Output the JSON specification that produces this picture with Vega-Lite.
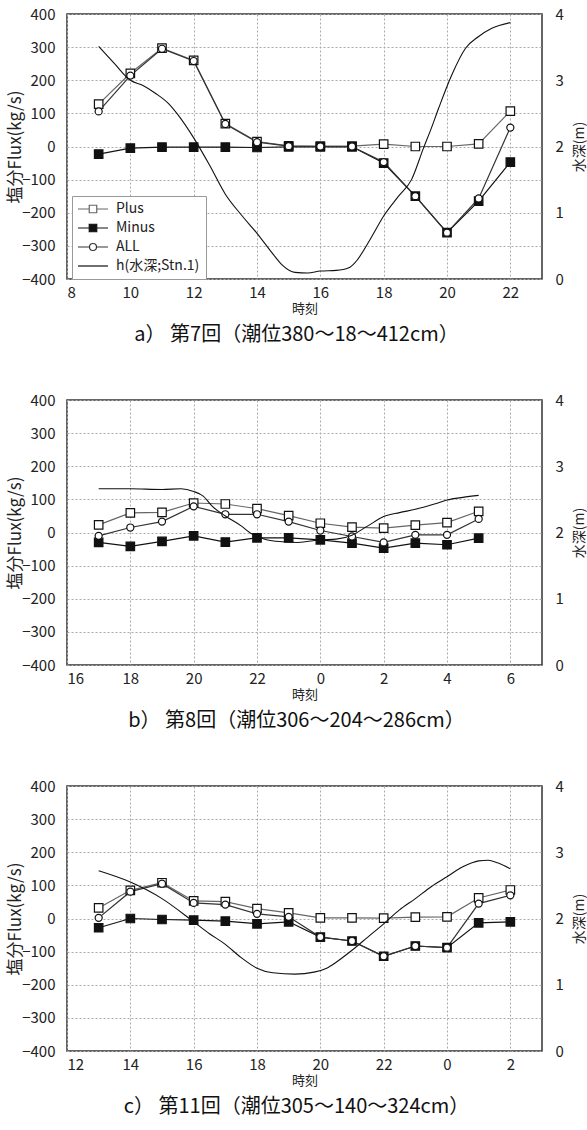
{
  "$schema": "https://vega.github.io/schema/vega-lite/v6.json",
  "background": "white",
  "padding": {"left": 5, "top": 6, "right": 2, "bottom": 2},
  "spacing": 46,
  "config": {
    "view": {"stroke": "#333", "strokeWidth": 1.5},
    "axis": {
      "labelFont": "Noto Sans CJK JP", "labelFontSize": 15, "labelColor": "#222", "labelOverlap": false,
      "titleFont": "Noto Sans CJK JP", "titleFontWeight": "normal", "titleColor": "#222",
      "ticks": false, "domain": false, "gridColor": "#aaa", "gridDash": [2, 2], "gridWidth": 1
    },
    "title": {"font": "Noto Sans CJK JP", "fontWeight": "normal", "fontSize": 20, "color": "#111"}
  },
  "datasets": {
    "a_pts": [
      {"t": 9, "series": "Plus", "v": 128}, {"t": 10, "series": "Plus", "v": 221}, {"t": 11, "series": "Plus", "v": 297}, {"t": 12, "series": "Plus", "v": 260}, {"t": 13, "series": "Plus", "v": 69}, {"t": 14, "series": "Plus", "v": 15}, {"t": 15, "series": "Plus", "v": 2}, {"t": 16, "series": "Plus", "v": 1}, {"t": 17, "series": "Plus", "v": 1}, {"t": 18, "series": "Plus", "v": 7}, {"t": 19, "series": "Plus", "v": 0}, {"t": 20, "series": "Plus", "v": 0}, {"t": 21, "series": "Plus", "v": 8}, {"t": 22, "series": "Plus", "v": 107},
      {"t": 9, "series": "Minus", "v": -23}, {"t": 10, "series": "Minus", "v": -5}, {"t": 11, "series": "Minus", "v": -2}, {"t": 12, "series": "Minus", "v": -2}, {"t": 13, "series": "Minus", "v": -2}, {"t": 14, "series": "Minus", "v": -3}, {"t": 15, "series": "Minus", "v": -1}, {"t": 16, "series": "Minus", "v": -1}, {"t": 17, "series": "Minus", "v": -1}, {"t": 18, "series": "Minus", "v": -50}, {"t": 19, "series": "Minus", "v": -150}, {"t": 20, "series": "Minus", "v": -260}, {"t": 21, "series": "Minus", "v": -165}, {"t": 22, "series": "Minus", "v": -47},
      {"t": 9, "series": "ALL", "v": 106}, {"t": 10, "series": "ALL", "v": 214}, {"t": 11, "series": "ALL", "v": 295}, {"t": 12, "series": "ALL", "v": 258}, {"t": 13, "series": "ALL", "v": 68}, {"t": 14, "series": "ALL", "v": 13}, {"t": 15, "series": "ALL", "v": 1}, {"t": 16, "series": "ALL", "v": 0}, {"t": 17, "series": "ALL", "v": 0}, {"t": 18, "series": "ALL", "v": -47}, {"t": 19, "series": "ALL", "v": -150}, {"t": 20, "series": "ALL", "v": -260}, {"t": 21, "series": "ALL", "v": -157}, {"t": 22, "series": "ALL", "v": 57}
    ],
    "a_h": [
      {"t": 9, "d": 3.51, "series": "h(水深;Stn.1)"}, {"t": 9.5, "d": 3.25, "series": "h(水深;Stn.1)"}, {"t": 10, "d": 3.0, "series": "h(水深;Stn.1)"}, {"t": 10.4, "d": 2.92, "series": "h(水深;Stn.1)"}, {"t": 10.8, "d": 2.8, "series": "h(水深;Stn.1)"}, {"t": 11.2, "d": 2.65, "series": "h(水深;Stn.1)"}, {"t": 11.5, "d": 2.48, "series": "h(水深;Stn.1)"}, {"t": 12, "d": 2.13, "series": "h(水深;Stn.1)"}, {"t": 12.5, "d": 1.72, "series": "h(水深;Stn.1)"}, {"t": 13, "d": 1.28, "series": "h(水深;Stn.1)"}, {"t": 13.5, "d": 0.97, "series": "h(水深;Stn.1)"}, {"t": 14, "d": 0.69, "series": "h(水深;Stn.1)"}, {"t": 14.5, "d": 0.38, "series": "h(水深;Stn.1)"}, {"t": 14.8, "d": 0.21, "series": "h(水深;Stn.1)"}, {"t": 15.2, "d": 0.1, "series": "h(水深;Stn.1)"}, {"t": 15.6, "d": 0.09, "series": "h(水深;Stn.1)"}, {"t": 16, "d": 0.12, "series": "h(水深;Stn.1)"}, {"t": 16.5, "d": 0.13, "series": "h(水深;Stn.1)"}, {"t": 16.9, "d": 0.17, "series": "h(水深;Stn.1)"}, {"t": 17.1, "d": 0.25, "series": "h(水深;Stn.1)"}, {"t": 17.6, "d": 0.62, "series": "h(水深;Stn.1)"}, {"t": 18, "d": 0.95, "series": "h(水深;Stn.1)"}, {"t": 18.47, "d": 1.25, "series": "h(水深;Stn.1)"}, {"t": 18.88, "d": 1.5, "series": "h(水深;Stn.1)"}, {"t": 19.26, "d": 1.98, "series": "h(水深;Stn.1)"}, {"t": 19.5, "d": 2.27, "series": "h(水深;Stn.1)"}, {"t": 19.73, "d": 2.57, "series": "h(水深;Stn.1)"}, {"t": 20.15, "d": 3.08, "series": "h(水深;Stn.1)"}, {"t": 20.58, "d": 3.48, "series": "h(水深;Stn.1)"}, {"t": 21, "d": 3.66, "series": "h(水深;Stn.1)"}, {"t": 21.4, "d": 3.78, "series": "h(水深;Stn.1)"}, {"t": 22, "d": 3.87, "series": "h(水深;Stn.1)"}
    ],
    "b_pts": [
      {"t": 17, "series": "Plus", "v": 23}, {"t": 18, "series": "Plus", "v": 59}, {"t": 19, "series": "Plus", "v": 61}, {"t": 20, "series": "Plus", "v": 89}, {"t": 21, "series": "Plus", "v": 86}, {"t": 22, "series": "Plus", "v": 72}, {"t": 23, "series": "Plus", "v": 51}, {"t": 24, "series": "Plus", "v": 28}, {"t": 25, "series": "Plus", "v": 16}, {"t": 26, "series": "Plus", "v": 13}, {"t": 27, "series": "Plus", "v": 22}, {"t": 28, "series": "Plus", "v": 30}, {"t": 29, "series": "Plus", "v": 64},
      {"t": 17, "series": "Minus", "v": -30}, {"t": 18, "series": "Minus", "v": -42}, {"t": 19, "series": "Minus", "v": -27}, {"t": 20, "series": "Minus", "v": -10}, {"t": 21, "series": "Minus", "v": -29}, {"t": 22, "series": "Minus", "v": -16}, {"t": 23, "series": "Minus", "v": -16}, {"t": 24, "series": "Minus", "v": -22}, {"t": 25, "series": "Minus", "v": -32}, {"t": 26, "series": "Minus", "v": -47}, {"t": 27, "series": "Minus", "v": -32}, {"t": 28, "series": "Minus", "v": -37}, {"t": 29, "series": "Minus", "v": -17},
      {"t": 17, "series": "ALL", "v": -10}, {"t": 18, "series": "ALL", "v": 15}, {"t": 19, "series": "ALL", "v": 33}, {"t": 20, "series": "ALL", "v": 79}, {"t": 21, "series": "ALL", "v": 55}, {"t": 22, "series": "ALL", "v": 55}, {"t": 23, "series": "ALL", "v": 33}, {"t": 24, "series": "ALL", "v": 6}, {"t": 25, "series": "ALL", "v": -12}, {"t": 26, "series": "ALL", "v": -30}, {"t": 27, "series": "ALL", "v": -7}, {"t": 28, "series": "ALL", "v": -7}, {"t": 29, "series": "ALL", "v": 41}
    ],
    "b_h": [
      {"t": 17, "d": 2.66, "series": "h(水深;Stn.1)"}, {"t": 18, "d": 2.66, "series": "h(水深;Stn.1)"}, {"t": 19, "d": 2.65, "series": "h(水深;Stn.1)"}, {"t": 19.6, "d": 2.66, "series": "h(水深;Stn.1)"}, {"t": 20, "d": 2.62, "series": "h(水深;Stn.1)"}, {"t": 20.3, "d": 2.55, "series": "h(水深;Stn.1)"}, {"t": 20.6, "d": 2.39, "series": "h(水深;Stn.1)"}, {"t": 21, "d": 2.25, "series": "h(水深;Stn.1)"}, {"t": 21.5, "d": 2.1, "series": "h(水深;Stn.1)"}, {"t": 21.8, "d": 1.99, "series": "h(水深;Stn.1)"}, {"t": 22.3, "d": 1.89, "series": "h(水深;Stn.1)"}, {"t": 22.8, "d": 1.86, "series": "h(水深;Stn.1)"}, {"t": 23.3, "d": 1.85, "series": "h(水深;Stn.1)"}, {"t": 24, "d": 1.89, "series": "h(水深;Stn.1)"}, {"t": 24.5, "d": 1.9, "series": "h(水深;Stn.1)"}, {"t": 25, "d": 1.96, "series": "h(水深;Stn.1)"}, {"t": 25.5, "d": 2.1, "series": "h(水深;Stn.1)"}, {"t": 26, "d": 2.24, "series": "h(水深;Stn.1)"}, {"t": 26.5, "d": 2.3, "series": "h(水深;Stn.1)"}, {"t": 27, "d": 2.35, "series": "h(水深;Stn.1)"}, {"t": 27.6, "d": 2.43, "series": "h(水深;Stn.1)"}, {"t": 28, "d": 2.49, "series": "h(水深;Stn.1)"}, {"t": 28.5, "d": 2.53, "series": "h(水深;Stn.1)"}, {"t": 29, "d": 2.56, "series": "h(水深;Stn.1)"}
    ],
    "c_pts": [
      {"t": 13, "series": "Plus", "v": 32}, {"t": 14, "series": "Plus", "v": 85}, {"t": 15, "series": "Plus", "v": 108}, {"t": 16, "series": "Plus", "v": 53}, {"t": 17, "series": "Plus", "v": 51}, {"t": 18, "series": "Plus", "v": 30}, {"t": 19, "series": "Plus", "v": 17}, {"t": 20, "series": "Plus", "v": 2}, {"t": 21, "series": "Plus", "v": 2}, {"t": 22, "series": "Plus", "v": 1}, {"t": 23, "series": "Plus", "v": 4}, {"t": 24, "series": "Plus", "v": 5}, {"t": 25, "series": "Plus", "v": 62}, {"t": 26, "series": "Plus", "v": 86},
      {"t": 13, "series": "Minus", "v": -28}, {"t": 14, "series": "Minus", "v": 0}, {"t": 15, "series": "Minus", "v": -3}, {"t": 16, "series": "Minus", "v": -5}, {"t": 17, "series": "Minus", "v": -8}, {"t": 18, "series": "Minus", "v": -16}, {"t": 19, "series": "Minus", "v": -10}, {"t": 20, "series": "Minus", "v": -56}, {"t": 21, "series": "Minus", "v": -68}, {"t": 22, "series": "Minus", "v": -114}, {"t": 23, "series": "Minus", "v": -83}, {"t": 24, "series": "Minus", "v": -88}, {"t": 25, "series": "Minus", "v": -13}, {"t": 26, "series": "Minus", "v": -10},
      {"t": 13, "series": "ALL", "v": 2}, {"t": 14, "series": "ALL", "v": 81}, {"t": 15, "series": "ALL", "v": 105}, {"t": 16, "series": "ALL", "v": 47}, {"t": 17, "series": "ALL", "v": 42}, {"t": 18, "series": "ALL", "v": 14}, {"t": 19, "series": "ALL", "v": 5}, {"t": 20, "series": "ALL", "v": -56}, {"t": 21, "series": "ALL", "v": -68}, {"t": 22, "series": "ALL", "v": -114}, {"t": 23, "series": "ALL", "v": -83}, {"t": 24, "series": "ALL", "v": -88}, {"t": 25, "series": "ALL", "v": 45}, {"t": 26, "series": "ALL", "v": 70}
    ],
    "c_h": [
      {"t": 13, "d": 2.72, "series": "h(水深;Stn.1)"}, {"t": 14, "d": 2.55, "series": "h(水深;Stn.1)"}, {"t": 15, "d": 2.3, "series": "h(水深;Stn.1)"}, {"t": 16, "d": 1.95, "series": "h(水深;Stn.1)"}, {"t": 16.5, "d": 1.77, "series": "h(水深;Stn.1)"}, {"t": 17, "d": 1.61, "series": "h(水深;Stn.1)"}, {"t": 17.5, "d": 1.41, "series": "h(水深;Stn.1)"}, {"t": 18, "d": 1.25, "series": "h(水深;Stn.1)"}, {"t": 18.5, "d": 1.18, "series": "h(水深;Stn.1)"}, {"t": 19.2, "d": 1.16, "series": "h(水深;Stn.1)"}, {"t": 19.8, "d": 1.19, "series": "h(水深;Stn.1)"}, {"t": 20.2, "d": 1.25, "series": "h(水深;Stn.1)"}, {"t": 20.5, "d": 1.34, "series": "h(水深;Stn.1)"}, {"t": 21, "d": 1.52, "series": "h(水深;Stn.1)"}, {"t": 21.5, "d": 1.72, "series": "h(水深;Stn.1)"}, {"t": 22, "d": 1.92, "series": "h(水深;Stn.1)"}, {"t": 22.5, "d": 2.13, "series": "h(水深;Stn.1)"}, {"t": 23, "d": 2.3, "series": "h(水深;Stn.1)"}, {"t": 23.5, "d": 2.48, "series": "h(水深;Stn.1)"}, {"t": 24, "d": 2.63, "series": "h(水深;Stn.1)"}, {"t": 24.5, "d": 2.78, "series": "h(水深;Stn.1)"}, {"t": 25, "d": 2.87, "series": "h(水深;Stn.1)"}, {"t": 25.3, "d": 2.88, "series": "h(水深;Stn.1)"}, {"t": 25.6, "d": 2.84, "series": "h(水深;Stn.1)"}, {"t": 26, "d": 2.75, "series": "h(水深;Stn.1)"}
    ]
  },
  "vconcat": [
    {
      "width": 475, "height": 265,
      "title": {"text": "a） 第7回（潮位380〜18〜412cm）", "orient": "bottom", "frame": "bounds", "offset": 10},
      "resolve": {"scale": {"y": "independent"}},
      "layer": [
        {
          "data": {"name": "a_pts"},
          "encoding": {
            "x": {"field": "t", "type": "quantitative", "scale": {"domain": [8, 23], "nice": false, "zero": false}, "axis": {"values": [8, 10, 12, 14, 16, 18, 20, 22], "title": "時刻", "titleFontSize": 13, "labelPadding": 6, "titlePadding": 2}},
            "y": {"field": "v", "type": "quantitative", "scale": {"domain": [-400, 400], "nice": false}, "axis": {"values": [-400, -300, -200, -100, 0, 100, 200, 300, 400], "labelOverlap": false, "title": "塩分Flux(kg/s)", "titleFontSize": 17, "labelPadding": 12, "titlePadding": -3}}
          },
          "layer": [
            {
              "mark": {"type": "line", "strokeWidth": 1.2},
              "encoding": {
                "color": {"field": "series", "type": "nominal", "scale": {"domain": ["Plus", "Minus", "ALL", "h(水深;Stn.1)"], "range": ["#666", "#111", "#333", "#111"]},
                  "legend": {"orient": "none", "legendX": 5, "legendY": 182, "title": null, "fillColor": "white", "strokeColor": "#999", "padding": 6, "rowPadding": 5, "labelFont": "Noto Sans CJK JP", "labelFontSize": 14, "labelColor": "#222", "symbolSize": 100, "symbolOffset": 8, "labelOffset": 16, "symbolStrokeWidth": 1.2,
                    "encode": {"symbols": {"update": {
                      "shape": {"signal": "datum.value === 'Plus' || datum.value === 'Minus' ? 'M-3,0H-0.75M0.75,0H3M-0.75,-0.75H0.75V0.75H-0.75Z' : datum.value === 'ALL' ? 'M-3,0H-0.7M0.7,0H3M-0.7,0A0.7,0.7,0,1,0,0.7,0A0.7,0.7,0,1,0,-0.7,0Z' : 'M-3,0H3'"},
                      "fill": {"signal": "datum.value === 'Minus' ? '#111' : datum.value === 'h(水深;Stn.1)' ? 'transparent' : 'white'"},
                      "stroke": {"value": "#111"}}}}}}
              }
            },
            {"transform": [{"filter": {"field": "series", "equal": "Plus"}}], "mark": {"type": "point", "shape": "square", "filled": true, "fill": "white", "stroke": "#111", "strokeWidth": 1.2, "size": 72, "opacity": 1}},
            {"transform": [{"filter": {"field": "series", "equal": "Minus"}}], "mark": {"type": "point", "shape": "square", "filled": true, "fill": "#111", "stroke": "#111", "strokeWidth": 1.2, "size": 72, "opacity": 1}},
            {"transform": [{"filter": {"field": "series", "equal": "ALL"}}], "mark": {"type": "point", "shape": "circle", "filled": true, "fill": "white", "stroke": "#111", "strokeWidth": 1.2, "size": 50, "opacity": 1}}
          ]
        },
        {
          "data": {"name": "a_h"},
          "mark": {"type": "line", "interpolate": "monotone", "strokeWidth": 1.1},
          "encoding": {
            "x": {"field": "t", "type": "quantitative"},
            "y": {"field": "d", "type": "quantitative", "scale": {"domain": [0, 4], "nice": false}, "axis": {"orient": "right", "values": [0, 1, 2, 3, 4], "grid": false, "title": "水深(m)", "titleAngle": 270, "titleBaseline": "top", "titleFontSize": 14, "labelPadding": 13, "titlePadding": 9}},
            "color": {"field": "series", "type": "nominal"}
          }
        }
      ]
    },
    {
      "width": 475, "height": 265,
      "title": {"text": "b） 第8回（潮位306〜204〜286cm）", "orient": "bottom", "frame": "bounds", "offset": 10},
      "resolve": {"scale": {"y": "independent"}},
      "layer": [
        {
          "data": {"name": "b_pts"},
          "encoding": {
            "x": {"field": "t", "type": "quantitative", "scale": {"domain": [16, 31], "nice": false, "zero": false}, "axis": {"values": [16, 18, 20, 22, 24, 26, 28, 30], "labelExpr": "'' + (datum.value % 24)", "title": "時刻", "titleFontSize": 13, "labelPadding": 6, "titlePadding": 2}},
            "y": {"field": "v", "type": "quantitative", "scale": {"domain": [-400, 400], "nice": false}, "axis": {"values": [-400, -300, -200, -100, 0, 100, 200, 300, 400], "labelOverlap": false, "title": "塩分Flux(kg/s)", "titleFontSize": 17, "labelPadding": 12, "titlePadding": -3}}
          },
          "layer": [
            {
              "mark": {"type": "line", "strokeWidth": 1.2},
              "encoding": {
                "color": {"field": "series", "type": "nominal", "scale": {"domain": ["Plus", "Minus", "ALL", "h(水深;Stn.1)"], "range": ["#666", "#111", "#333", "#111"]},
                  "legend": {"orient": "none", "legendX": 5, "legendY": 181, "title": null, "fillColor": "white", "strokeColor": "#999", "padding": 6, "rowPadding": 5, "labelFont": "Noto Sans CJK JP", "labelFontSize": 14, "labelColor": "#222", "symbolSize": 100, "symbolOffset": 8, "labelOffset": 16, "symbolStrokeWidth": 1.2,
                    "encode": {"symbols": {"update": {
                      "shape": {"signal": "datum.value === 'Plus' || datum.value === 'Minus' ? 'M-3,0H-0.75M0.75,0H3M-0.75,-0.75H0.75V0.75H-0.75Z' : datum.value === 'ALL' ? 'M-3,0H-0.7M0.7,0H3M-0.7,0A0.7,0.7,0,1,0,0.7,0A0.7,0.7,0,1,0,-0.7,0Z' : 'M-3,0H3'"},
                      "fill": {"signal": "datum.value === 'Minus' ? '#111' : datum.value === 'h(水深;Stn.1)' ? 'transparent' : 'white'"},
                      "stroke": {"value": "#111"}}}}}}
              }
            },
            {"transform": [{"filter": {"field": "series", "equal": "Plus"}}], "mark": {"type": "point", "shape": "square", "filled": true, "fill": "white", "stroke": "#111", "strokeWidth": 1.2, "size": 72, "opacity": 1}},
            {"transform": [{"filter": {"field": "series", "equal": "Minus"}}], "mark": {"type": "point", "shape": "square", "filled": true, "fill": "#111", "stroke": "#111", "strokeWidth": 1.2, "size": 72, "opacity": 1}},
            {"transform": [{"filter": {"field": "series", "equal": "ALL"}}], "mark": {"type": "point", "shape": "circle", "filled": true, "fill": "white", "stroke": "#111", "strokeWidth": 1.2, "size": 50, "opacity": 1}}
          ]
        },
        {
          "data": {"name": "b_h"},
          "mark": {"type": "line", "interpolate": "monotone", "strokeWidth": 1.1},
          "encoding": {
            "x": {"field": "t", "type": "quantitative"},
            "y": {"field": "d", "type": "quantitative", "scale": {"domain": [0, 4], "nice": false}, "axis": {"orient": "right", "values": [0, 1, 2, 3, 4], "grid": false, "title": "水深(m)", "titleAngle": 270, "titleBaseline": "top", "titleFontSize": 14, "labelPadding": 13, "titlePadding": 9}},
            "color": {"field": "series", "type": "nominal"}
          }
        }
      ]
    },
    {
      "width": 475, "height": 265,
      "title": {"text": "c） 第11回（潮位305〜140〜324cm）", "orient": "bottom", "frame": "bounds", "offset": 10},
      "resolve": {"scale": {"y": "independent"}},
      "layer": [
        {
          "data": {"name": "c_pts"},
          "encoding": {
            "x": {"field": "t", "type": "quantitative", "scale": {"domain": [12, 27], "nice": false, "zero": false}, "axis": {"values": [12, 14, 16, 18, 20, 22, 24, 26], "labelExpr": "'' + (datum.value % 24)", "title": "時刻", "titleFontSize": 13, "labelPadding": 6, "titlePadding": 2}},
            "y": {"field": "v", "type": "quantitative", "scale": {"domain": [-400, 400], "nice": false}, "axis": {"values": [-400, -300, -200, -100, 0, 100, 200, 300, 400], "labelOverlap": false, "title": "塩分Flux(kg/s)", "titleFontSize": 17, "labelPadding": 12, "titlePadding": -3}}
          },
          "layer": [
            {
              "mark": {"type": "line", "strokeWidth": 1.2},
              "encoding": {
                "color": {"field": "series", "type": "nominal", "scale": {"domain": ["Plus", "Minus", "ALL", "h(水深;Stn.1)"], "range": ["#666", "#111", "#333", "#111"]},
                  "legend": {"orient": "none", "legendX": 5, "legendY": 182, "title": null, "fillColor": "white", "strokeColor": "#999", "padding": 6, "rowPadding": 5, "labelFont": "Noto Sans CJK JP", "labelFontSize": 14, "labelColor": "#222", "symbolSize": 100, "symbolOffset": 8, "labelOffset": 16, "symbolStrokeWidth": 1.2,
                    "encode": {"symbols": {"update": {
                      "shape": {"signal": "datum.value === 'Plus' || datum.value === 'Minus' ? 'M-3,0H-0.75M0.75,0H3M-0.75,-0.75H0.75V0.75H-0.75Z' : datum.value === 'ALL' ? 'M-3,0H-0.7M0.7,0H3M-0.7,0A0.7,0.7,0,1,0,0.7,0A0.7,0.7,0,1,0,-0.7,0Z' : 'M-3,0H3'"},
                      "fill": {"signal": "datum.value === 'Minus' ? '#111' : datum.value === 'h(水深;Stn.1)' ? 'transparent' : 'white'"},
                      "stroke": {"value": "#111"}}}}}}
              }
            },
            {"transform": [{"filter": {"field": "series", "equal": "Plus"}}], "mark": {"type": "point", "shape": "square", "filled": true, "fill": "white", "stroke": "#111", "strokeWidth": 1.2, "size": 72, "opacity": 1}},
            {"transform": [{"filter": {"field": "series", "equal": "Minus"}}], "mark": {"type": "point", "shape": "square", "filled": true, "fill": "#111", "stroke": "#111", "strokeWidth": 1.2, "size": 72, "opacity": 1}},
            {"transform": [{"filter": {"field": "series", "equal": "ALL"}}], "mark": {"type": "point", "shape": "circle", "filled": true, "fill": "white", "stroke": "#111", "strokeWidth": 1.2, "size": 50, "opacity": 1}}
          ]
        },
        {
          "data": {"name": "c_h"},
          "mark": {"type": "line", "interpolate": "monotone", "strokeWidth": 1.1},
          "encoding": {
            "x": {"field": "t", "type": "quantitative"},
            "y": {"field": "d", "type": "quantitative", "scale": {"domain": [0, 4], "nice": false}, "axis": {"orient": "right", "values": [0, 1, 2, 3, 4], "grid": false, "title": "水深(m)", "titleAngle": 270, "titleBaseline": "top", "titleFontSize": 14, "labelPadding": 13, "titlePadding": 9}},
            "color": {"field": "series", "type": "nominal"}
          }
        }
      ]
    }
  ]
}
